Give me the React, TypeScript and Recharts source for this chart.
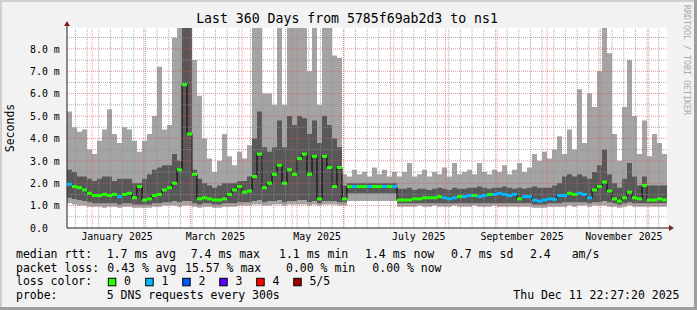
import React from 'react';
import { ComposedChart, Area, Line, Scatter, XAxis, YAxis, ReferenceLine, ReferenceDot } from 'recharts';

// ---- data (3-day bins over the last 360 days, values in ms) ----
const BIN_DAYS = 3;
const TOTAL_DAYS = 360;
const Y_MAX = 8.93;

// fastest ping (p1) .. slowest ping (p5), median, and loss count per bin
const pingMin = [
  1.1, 1.05, 1.0, 1.0, 0.95, 0.95, 0.95, 0.9, 0.95, 0.95,
  0.9, 0.95, 0.95, 0.9, 0.9, 0.9, 0.9, 0.95, 0.95, 1.0,
  1.0, 1.0, 0.95, 1.0, 1.0, 0.95, 0.9, 0.95, 0.95, 0.9,
  0.9, 0.95, 0.95, 0.95, 1.0, 1.0, 1.0, 1.05, 1.05, 1.0,
  1.0, 1.05, 1.05, 1.0, 1.05, 1.05, 1.05, 1.05, 1.0, 1.05,
  1.0, 1.05, 1.05, 1.05, 1.0, 1.0, 1.2, 1.2, 1.2, 1.2,
  1.2, 1.2, 1.2, 1.2, 1.2, 1.2, 0.95, 0.95, 0.95, 0.95,
  1.0, 0.95, 0.95, 1.0, 0.95, 0.95, 0.95, 1.0, 0.95, 0.95,
  0.95, 1.0, 0.95, 0.95, 0.95, 1.0, 0.95, 0.95, 0.95, 0.95,
  0.95, 0.95, 0.95, 0.9, 0.9, 0.9, 0.95, 0.95, 0.95, 0.95,
  1.0, 0.95, 1.0, 1.0, 0.95, 1.0, 1.0, 1.0, 0.95, 0.95,
  0.9, 0.95, 1.0, 0.95, 0.95, 0.95, 0.95, 0.95, 0.95, 0.95,
];
const pingLow = [
  1.35, 1.3, 1.25, 1.2, 1.15, 1.1, 1.1, 1.1, 1.1, 1.1,
  1.05, 1.1, 1.1, 1.05, 1.05, 1.05, 1.05, 1.1, 1.1, 1.15,
  1.15, 1.2, 1.15, 1.2, 1.2, 1.1, 1.05, 1.1, 1.1, 1.05,
  1.05, 1.1, 1.1, 1.1, 1.15, 1.15, 1.15, 1.2, 1.25, 1.15,
  1.2, 1.2, 1.25, 1.15, 1.2, 1.2, 1.25, 1.25, 1.15, 1.2,
  1.1, 1.2, 1.2, 1.2, 1.15, 1.15, 1.55, 1.55, 1.55, 1.55,
  1.55, 1.55, 1.55, 1.55, 1.55, 1.55, 1.1, 1.1, 1.1, 1.1,
  1.1, 1.1, 1.1, 1.1, 1.1, 1.1, 1.1, 1.1, 1.1, 1.1,
  1.1, 1.1, 1.1, 1.1, 1.1, 1.1, 1.1, 1.1, 1.1, 1.1,
  1.1, 1.1, 1.1, 1.05, 1.05, 1.05, 1.1, 1.1, 1.1, 1.15,
  1.15, 1.15, 1.15, 1.15, 1.1, 1.15, 1.15, 1.2, 1.15, 1.1,
  1.05, 1.1, 1.15, 1.1, 1.1, 1.1, 1.1, 1.1, 1.1, 1.1,
];
const pingHigh = [
  2.6, 2.5, 2.3, 2.3, 2.2, 2.1, 2.2, 2.3, 2.3, 2.1,
  2.2, 2.2, 2.2, 2.0, 2.0, 2.2, 2.4, 2.6, 2.7, 2.8,
  2.8, 3.3, 3.0, 9.5, 9.5, 2.6, 2.2, 2.0, 1.9, 1.8,
  1.9, 2.0, 2.0, 2.0, 2.1, 2.1, 2.3, 4.0, 5.2, 3.6,
  3.4, 3.6, 4.8, 3.6, 5.0, 4.6, 5.0, 4.9, 4.2, 4.8,
  3.8, 5.0, 4.6, 4.0, 3.6, 1.9, 2.0, 2.0, 2.0, 2.0,
  2.0, 2.0, 2.0, 2.0, 2.0, 2.0, 1.75, 1.75, 1.8, 1.7,
  1.75, 1.75, 1.7, 1.75, 1.8, 1.75, 1.7, 1.8, 1.75, 1.75,
  1.8, 1.8, 1.85, 1.8, 1.75, 1.8, 1.8, 1.85, 1.8, 1.75,
  1.8, 1.75, 1.8, 1.85, 1.8, 1.8, 1.8, 1.9, 2.0, 2.3,
  2.4, 2.3, 2.4, 2.3, 2.2, 2.5, 2.8, 3.5, 2.4, 2.0,
  1.8, 2.2, 2.9, 2.3, 1.9, 2.3, 1.9, 1.9, 1.9, 1.9,
];
const pingMax = [
  5.2, 4.5, 4.3, 4.4, 3.5, 3.3, 3.9, 4.4, 5.3, 4.2,
  3.8, 4.5, 4.4, 3.9, 3.4, 3.9, 4.2, 5.0, 7.2, 4.4,
  4.6, 8.5, 9.5, 9.5, 9.5, 7.5, 5.9, 4.0, 3.1, 2.5,
  3.0, 4.2, 3.2, 2.8, 3.4, 3.1, 3.7, 9.5, 9.5, 6.0,
  6.0, 5.5, 9.5, 5.5, 9.5, 9.5, 9.5, 9.5, 7.0, 9.5,
  5.5, 9.5, 9.5, 7.7, 7.6, 2.4, 2.3, 2.6, 2.4, 2.5,
  2.3, 2.7, 2.4, 2.6, 2.3, 2.5, 2.3, 2.5, 2.9, 2.3,
  2.4, 2.6, 2.3, 2.5, 2.4, 2.7, 2.3, 2.9, 2.4, 2.5,
  2.6, 2.4, 2.9, 2.5, 2.4, 2.6, 2.5, 2.8, 2.4, 2.6,
  2.9, 2.5, 2.7, 3.3, 3.0, 3.4, 3.1, 3.5, 4.1, 3.3,
  4.4, 3.5, 6.2, 3.8, 6.0, 5.4, 7.0, 9.5, 7.8, 4.2,
  3.0, 5.4, 7.5, 5.0, 3.3, 4.8, 3.2, 4.2, 3.8, 3.3,
];
const medianRtt = [
  1.95, 1.85, 1.8, 1.7, 1.55, 1.45, 1.45, 1.5, 1.45, 1.5,
  1.4, 1.5, 1.55, 1.35, 1.85, 1.25, 1.3, 1.45, 1.5, 1.7,
  1.8, 2.0, 2.6, 6.4, 4.2, 2.4, 1.3, 1.35, 1.3, 1.25,
  1.25, 1.3, 1.5, 1.7, 1.85, 1.6, 1.65, 2.3, 3.3, 1.8,
  2.0, 2.4, 2.8, 2.0, 2.6, 2.4, 3.1, 3.3, 2.4, 3.2,
  1.3, 3.2, 2.7, 1.85, 2.7, 1.3, 1.85, 1.85, 1.85, 1.85,
  1.85, 1.85, 1.85, 1.85, 1.85, 1.85, 1.25, 1.25, 1.25, 1.3,
  1.3, 1.35, 1.35, 1.35, 1.4, 1.35, 1.3, 1.35, 1.4, 1.4,
  1.45, 1.45, 1.4, 1.45, 1.5, 1.5, 1.55, 1.5, 1.45, 1.5,
  1.3, 1.4, 1.4, 1.25, 1.2, 1.25, 1.3, 1.28, 1.45, 1.45,
  1.55, 1.5, 1.55, 1.5, 1.35, 1.7, 1.85, 2.05, 1.65, 1.3,
  1.2, 1.35, 1.6, 1.35, 1.3, 1.9, 1.25, 1.25, 1.3, 1.25,
];
const lossCount = [
  1, 0, 0, 0, 0, 0, 0, 0, 0, 0,
  1, 0, 0, 0, 0, 0, 0, 0, 0, 0,
  0, 0, 0, 0, 0, 0, 0, 0, 0, 0,
  0, 0, 0, 0, 0, 0, 0, 0, 0, 0,
  0, 0, 0, 0, 0, 0, 0, 0, 0, 0,
  0, 0, 0, 0, 0, 0, 0, 1, 0, 0,
  1, 0, 0, 1, 0, 1, 0, 0, 0, 0,
  0, 0, 0, 0, 0, 1, 1, 1, 0, 1,
  1, 0, 1, 1, 0, 1, 1, 1, 1, 1,
  0, 1, 1, 1, 1, 1, 1, 1, 1, 1,
  0, 0, 1, 1, 1, 0, 0, 0, 0, 0,
  0, 0, 0, 0, 0, 0, 0, 0, 0, 0,
];

const lossLabels = ['0', '1', '2', '3', '4', '5/5'];
const lossColors = ['#26ff00', '#00b8ff', '#0059ff', '#5e00ff', '#ff0000', '#a00000'];

const yTicks = [0, 1, 2, 3, 4, 5, 6, 7, 8];
const monthLabels = ['January 2025', 'March 2025', 'May 2025', 'July 2025', 'September 2025', 'November 2025'];
const labelMonthIdx = [0, 2, 4, 6, 8, 10];

const legendRows: [number, string][][] = [
  [[16, 'median rtt:'], [106.7, '1.7 ms avg'], [190.7, '7.4 ms max'], [279, '1.1 ms min'], [365, '1.4 ms now'], [451, '0.7 ms sd'], [530, '2.4'], [571.7, 'am/s']],
  [[16, 'packet loss:'], [107.3, '0.43 % avg'], [185, '15.57 % max'], [286, '0.00 % min'], [372.3, '0.00 % now']],
  [[16, 'loss color:']],
  [[16, 'probe:'], [106.7, '5 DNS requests every 300s'], [513.3, 'Thu Dec 11 22:27:20 2025']],
];
const legendBaselines = [257.8, 271.5, 285.2, 298.9];
const lossBoxX = [108.3, 145.7, 182.7, 219.7, 256.7, 293.7];

// ---- time helpers ----
const START = Date.UTC(2024, 11, 16, 22, 27, 20);
const DAY = 86400000;
const dayOf = (y: number, m: number, d: number) => (Date.UTC(y, m, d) - START) / DAY;

const labelTicks = labelMonthIdx.map((m) => dayOf(2025, m, 16));
const monthStarts = Array.from({ length: 12 }, (_, m) => dayOf(2025, m, 1));
const weekLines: number[] = [];
for (let t = dayOf(2024, 11, 22); t < TOTAL_DAYS; t += 7) weekLines.push(t);
const minorY = [0.5, 1.5, 2.5, 3.5, 4.5, 5.5, 6.5, 7.5, 8.5];
const majorY = [1, 2, 3, 4, 5, 6, 7, 8];

const chartData = pingMax.map((_, i) => ({
  x: i * BIN_DAYS,
  outer: [pingMin[i], pingMax[i]],
  inner: [pingLow[i], pingHigh[i]],
  med: medianRtt[i],
}));
const lastI = pingMax.length - 1;
chartData.push({ x: TOTAL_DAYS, outer: [pingMin[lastI], pingMax[lastI]], inner: [pingLow[lastI], pingHigh[lastI]], med: medianRtt[lastI] });

const medPoints = medianRtt.map((v, i) => ({ x: i * BIN_DAYS + BIN_DAYS / 2, y: v, c: lossColors[lossCount[i]] }));

const MONO = '"DejaVu Sans Mono", monospace';
const GRID = 'rgba(143,143,143,0.75)';
const MGRID = 'rgba(222,79,79,0.6)';
const ARROW = '#801f1f';

const YTick = (props: any) => {
  const { y, payload } = props;
  const v = payload.value as number;
  return (
    <g>
      <text x={30} y={y + 3.7} fontFamily={MONO} fontSize={9.9} fill="#000">
        {v === 0 ? '0.0' : `${v.toFixed(1)} m`}
      </text>
    </g>
  );
};
const XTick = (props: any) => {
  const { x, payload } = props;
  const idx = labelTicks.findIndex((t) => Math.abs(t - payload.value) < 1e-6);
  return (
    <text x={x} y={240} textAnchor="middle" fontFamily={MONO} fontSize={9.9} fill="#000">
      {idx >= 0 ? monthLabels[idx] : ''}
    </text>
  );
};

const MedShape = (p: any) => {
  const { cx, cy, payload } = p;
  if (!Number.isFinite(cx) || !Number.isFinite(cy)) return <g />;
  return <rect x={cx - 2.5} y={cy - 1.5} width={5} height={3} fill={payload.c} />;
};
const ArrowRight = (p: any) => {
  const { cx, cy } = p;
  return (
    <g>
      <line x1={cx} y1={cy} x2={cx + 3} y2={cy} stroke="#1f1f1f" />
      <polygon points={`${cx + 2},${cy - 3} ${cx + 7},${cy} ${cx + 2},${cy + 3}`} fill={ARROW} />
    </g>
  );
};
const ArrowUp = (p: any) => {
  const { cx, cy } = p;
  return (
    <g>
      <line x1={cx} y1={cy} x2={cx} y2={cy - 3} stroke="#1f1f1f" />
      <polygon points={`${cx - 3},${cy - 2} ${cx},${cy - 7} ${cx + 3},${cy - 2}`} fill={ARROW} />
    </g>
  );
};

export default function App() {
  return (
    <div style={{ position: 'absolute', left: 0, top: 0, width: 697, height: 310, background: '#f2f2f2', overflow: 'hidden' }}>
      <div style={{ position: 'absolute', left: 0, top: 0, width: 697, height: 2, background: '#cfcfcf' }} />
      <div style={{ position: 'absolute', left: 0, top: 0, width: 2, height: 310, background: '#cfcfcf' }} />
      <div style={{ position: 'absolute', left: 0, top: 307, width: 697, height: 3, background: '#9e9e9e' }} />
      <div style={{ position: 'absolute', left: 694, top: 0, width: 3, height: 310, background: '#9e9e9e' }} />
      <div style={{ position: 'absolute', left: 67, top: 28, width: 600, height: 200, background: '#ffffff' }} />
      <div style={{ position: 'absolute', left: 0, top: 0 }}>
        <ComposedChart width={697} height={310} data={chartData} margin={{ top: 28, right: 30, bottom: 62, left: 0 }}>
          <XAxis
            type="number"
            dataKey="x"
            domain={[0, TOTAL_DAYS]}
            ticks={labelTicks}
            tick={<XTick />}
            tickLine={false}
            axisLine={{ stroke: '#1f1f1f' }}
            height={20}
            allowDataOverflow
            interval={0}
          />
          <YAxis
            type="number"
            domain={[0, Y_MAX]}
            ticks={yTicks}
            tick={<YTick />}
            tickLine={false}
            axisLine={{ stroke: '#1f1f1f' }}
            width={67}
            allowDataOverflow
            interval={0}
          />
          <Area type="stepAfter" dataKey="outer" fill="#a4a4a4" fillOpacity={1} stroke="none" isAnimationActive={false} />
          <Area type="stepAfter" dataKey="inner" fill="#585858" fillOpacity={1} stroke="none" isAnimationActive={false} />
          <Line type="stepAfter" dataKey="med" stroke="#000000" strokeWidth={1} dot={false} activeDot={false} isAnimationActive={false} />
          <Scatter data={medPoints} dataKey="y" shape={MedShape} isAnimationActive={false} />
          {minorY.map((v) => (
            <ReferenceLine key={`hy${v}`} y={v} stroke={GRID} strokeWidth={1} strokeDasharray="1 1" />
          ))}
          {weekLines.map((v) => (
            <ReferenceLine key={`wx${v}`} x={v} stroke={GRID} strokeWidth={1} strokeDasharray="1 1" />
          ))}
          {majorY.map((v) => (
            <ReferenceLine key={`my${v}`} y={v} stroke={MGRID} strokeWidth={1} strokeDasharray="1 1" />
          ))}
          {monthStarts.map((v) => (
            <ReferenceLine key={`mx${v}`} x={v} stroke={MGRID} strokeWidth={1} strokeDasharray="1 1" />
          ))}
          <ReferenceDot x={TOTAL_DAYS} y={0} ifOverflow="visible" shape={ArrowRight} />
          <ReferenceDot x={0} y={Y_MAX} ifOverflow="visible" shape={ArrowUp} />
        </ComposedChart>
      </div>
      <svg width={697} height={310} style={{ position: 'absolute', left: 0, top: 0, pointerEvents: 'none' }}>
        <text x={347} y={22.5} textAnchor="middle" fontFamily={MONO} fontSize={13.2} fill="#000">
          Last 360 Days from 5785f69ab2d3 to ns1
        </text>
        <text transform="translate(14.4,128) rotate(-90)" textAnchor="middle" fontFamily={MONO} fontSize={11.5} fill="#000">
          Seconds
        </text>
        <text transform="translate(683.5,5) rotate(90)" textAnchor="start" fontFamily={MONO} fontSize={8.3} fill="#aaaaaa">
          RRDTOOL / TOBI OETIKER
        </text>
        {legendRows.map((row, r) =>
          row.map(([x, s], k) => (
            <text key={`l${r}-${k}`} x={x} y={legendBaselines[r]} fontFamily={MONO} fontSize={11.5} fill="#000" style={{ whiteSpace: 'pre' }}>
              {s}
            </text>
          ))
        )}
        {lossLabels.map((lab, i) => (
          <g key={`lb${i}`}>
            <rect x={lossBoxX[i]} y={278.3} width={7.5} height={7.5} fill={lossColors[i]} stroke="#000" strokeWidth={1} />
            <text x={lossBoxX[i] + 15.7} y={legendBaselines[2]} fontFamily={MONO} fontSize={11.5} fill="#000">
              {lab}
            </text>
          </g>
        ))}
      </svg>
    </div>
  );
}
